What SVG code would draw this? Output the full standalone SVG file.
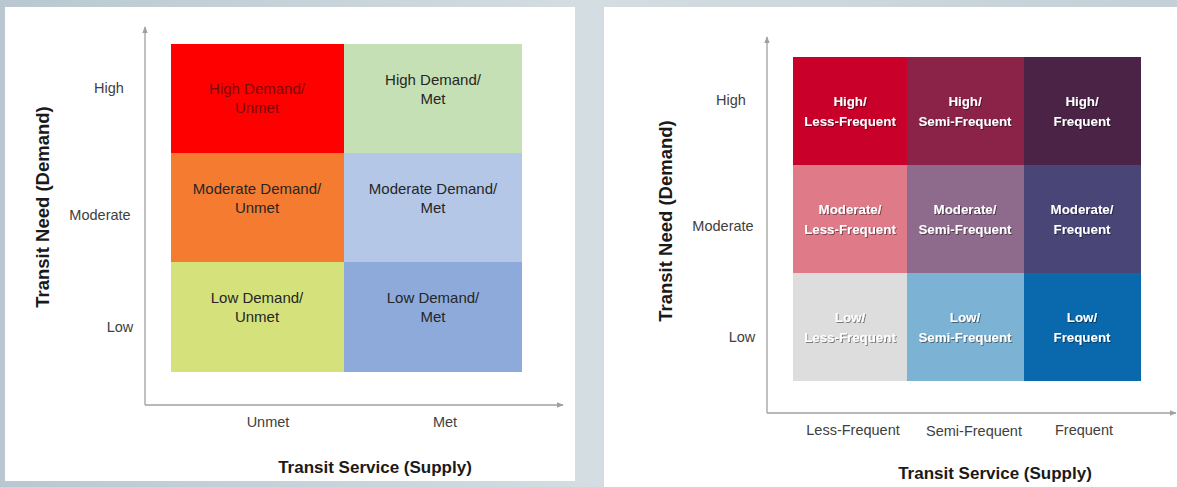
<svg xmlns="http://www.w3.org/2000/svg" width="1177" height="487" viewBox="0 0 1177 487">
<defs>
<linearGradient id="bg" x1="0" y1="0" x2="1" y2="0">
<stop offset="0" stop-color="#b9c8d0"/>
<stop offset="0.5" stop-color="#d3dde2"/>
<stop offset="1" stop-color="#c3d0d7"/>
</linearGradient>
<marker id="arr" viewBox="0 0 10 10" refX="9" refY="5" markerWidth="7" markerHeight="7" orient="auto" markerUnits="userSpaceOnUse">
<path d="M0,1 L10,5 L0,9 z" fill="#a0a0a0"/>
</marker>
<filter id="sh" x="-10%" y="-10%" width="130%" height="140%">
<feDropShadow dx="1" dy="1" stdDeviation="0.6" flood-color="#000" flood-opacity="0.45"/>
</filter>
</defs>
<style>
.lbl{font-family:"Liberation Sans",Arial,sans-serif;font-size:14.5px;fill:#404040;text-anchor:middle}
.ttl{font-family:"Liberation Sans",Arial,sans-serif;font-size:17px;font-weight:bold;fill:#1a1a1a;text-anchor:middle}
.vt{font-size:18.5px}
.c1{font-family:"Liberation Sans",Arial,sans-serif;font-size:15px;fill:#262626;text-anchor:middle}
.c2{font-family:"Liberation Sans",Arial,sans-serif;font-size:13.3px;font-weight:bold;fill:#ffffff;text-anchor:middle;filter:url(#sh)}
.ax{stroke:#a0a0a0;stroke-width:1.3;fill:none;marker-end:url(#arr)}
</style>
<rect x="0" y="0" width="1177" height="487" fill="url(#bg)"/>
<rect x="5" y="7" width="570" height="474" fill="#ffffff"/>
<rect x="604" y="7" width="573" height="480" fill="#ffffff"/>

<g id="connectors">
<line class="ax" x1="145" y1="405" x2="145" y2="27"/>
<line class="ax" x1="145" y1="405" x2="563" y2="405"/>
<line class="ax" x1="767" y1="413" x2="767" y2="37"/>
<line class="ax" x1="767" y1="413" x2="1176" y2="413"/>
</g>

<g id="left-axis-labels">
<text class="lbl" x="109" y="93">High</text>
<text class="lbl" x="100" y="220">Moderate</text>
<text class="lbl" x="120" y="332">Low</text>
<text class="lbl" x="268" y="427">Unmet</text>
<text class="lbl" x="445" y="427">Met</text>
<text class="ttl" x="375" y="473">Transit Service (Supply)</text>
<text class="ttl vt" transform="translate(49,207) rotate(-90)">Transit Need (Demand)</text>
</g>

<g id="L-high-unmet"><rect x="171" y="44" width="173" height="109" fill="#ff0000"/>
<text class="c1" x="257" y="94" style="fill:#7a0a0a">High Demand/</text><text class="c1" x="257" y="113" style="fill:#7a0a0a">Unmet</text></g>
<g id="L-high-met"><rect x="344" y="44" width="178" height="109" fill="#c5e0b4"/>
<text class="c1" x="433" y="85">High Demand/</text><text class="c1" x="433" y="104">Met</text></g>
<g id="L-mod-unmet"><rect x="171" y="153" width="173" height="109" fill="#f47b30"/>
<text class="c1" x="257" y="194">Moderate Demand/</text><text class="c1" x="257" y="213">Unmet</text></g>
<g id="L-mod-met"><rect x="344" y="153" width="178" height="109" fill="#b4c7e7"/>
<text class="c1" x="433" y="194">Moderate Demand/</text><text class="c1" x="433" y="213">Met</text></g>
<g id="L-low-unmet"><rect x="171" y="262" width="173" height="110" fill="#d5e27b"/>
<text class="c1" x="257" y="303">Low Demand/</text><text class="c1" x="257" y="322">Unmet</text></g>
<g id="L-low-met"><rect x="344" y="262" width="178" height="110" fill="#8eaadb"/>
<text class="c1" x="433" y="303">Low Demand/</text><text class="c1" x="433" y="322">Met</text></g>

<g id="right-axis-labels">
<text class="lbl" x="731" y="105">High</text>
<text class="lbl" x="723" y="231">Moderate</text>
<text class="lbl" x="742" y="342">Low</text>
<text class="lbl" x="853" y="435">Less-Frequent</text>
<text class="lbl" x="974" y="436">Semi-Frequent</text>
<text class="lbl" x="1084" y="435">Frequent</text>
<text class="ttl" x="995" y="479">Transit Service (Supply)</text>
<text class="ttl vt" transform="translate(672,221) rotate(-90)">Transit Need (Demand)</text>
</g>

<g id="R-high-less"><rect x="793" y="57" width="114" height="108" fill="#c8002a"/>
<text class="c2" x="850" y="106">High/</text><text class="c2" x="850" y="126">Less-Frequent</text></g>
<g id="R-high-semi"><rect x="907" y="57" width="117" height="108" fill="#8b2349"/>
<text class="c2" x="965" y="106">High/</text><text class="c2" x="965" y="126">Semi-Frequent</text></g>
<g id="R-high-freq"><rect x="1024" y="57" width="117" height="108" fill="#4a2346"/>
<text class="c2" x="1082" y="106">High/</text><text class="c2" x="1082" y="126">Frequent</text></g>
<g id="R-mod-less"><rect x="793" y="165" width="114" height="108" fill="#df7b88"/>
<text class="c2" x="850" y="214">Moderate/</text><text class="c2" x="850" y="234">Less-Frequent</text></g>
<g id="R-mod-semi"><rect x="907" y="165" width="117" height="108" fill="#8e6a8d"/>
<text class="c2" x="965" y="214">Moderate/</text><text class="c2" x="965" y="234">Semi-Frequent</text></g>
<g id="R-mod-freq"><rect x="1024" y="165" width="117" height="108" fill="#4a4577"/>
<text class="c2" x="1082" y="214">Moderate/</text><text class="c2" x="1082" y="234">Frequent</text></g>
<g id="R-low-less"><rect x="793" y="273" width="114" height="108" fill="#dddddd"/>
<text class="c2" x="850" y="322">Low/</text><text class="c2" x="850" y="342">Less-Frequent</text></g>
<g id="R-low-semi"><rect x="907" y="273" width="117" height="108" fill="#7cb2d3"/>
<text class="c2" x="965" y="322">Low/</text><text class="c2" x="965" y="342">Semi-Frequent</text></g>
<g id="R-low-freq"><rect x="1024" y="273" width="117" height="108" fill="#0a69ad"/>
<text class="c2" x="1082" y="322">Low/</text><text class="c2" x="1082" y="342">Frequent</text></g>
</svg>
